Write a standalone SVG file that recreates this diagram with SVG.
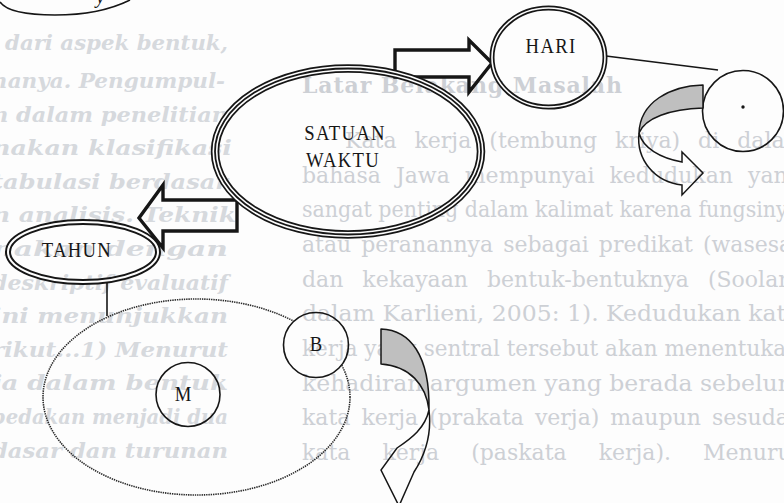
<svg xmlns="http://www.w3.org/2000/svg" width="784" height="503" viewBox="0 0 784 503">
  <defs>
    <style>
      .ghost{font-family:"DejaVu Serif","Liberation Serif",serif}
      .gl{font-style:italic;font-weight:bold;font-size:21px;fill:#d6d9dd}
      .gr{font-size:22px;fill:#cdd0d5}
      .gh{font-weight:bold}
      .lbl{font-family:"Liberation Serif","DejaVu Serif",serif;font-size:22px;fill:#161616;text-anchor:middle;letter-spacing:1.5px}
      .one{letter-spacing:0}
      .thin{fill:none;stroke:#161616;stroke-width:1.6}
      .blk{fill:none;stroke:#161616;stroke-width:3.4;stroke-linejoin:miter}
      .dot{fill:none;stroke:#2a2a2a;stroke-width:1.6;stroke-dasharray:1.4 0.9}
      .shade{fill:#bfbfbf;stroke:#161616;stroke-width:1.5;stroke-linejoin:round}
      .band{fill:none;stroke:#161616;stroke-width:1.5;stroke-linejoin:miter}
    </style>
    <mask id="cutB">
      <rect width="784" height="503" fill="#fff"/>
      <circle cx="316" cy="345" r="33" fill="#000"/>
    </mask>
  </defs>

  <rect width="784" height="503" fill="#fdfdfd"/>

  <!-- show-through of the facing page -->
  <g id="ghost-left" class="ghost gl">
    <text x="5" y="50" textLength="223" lengthAdjust="spacingAndGlyphs">dari aspek bentuk,</text>
    <text x="-8" y="88" textLength="233" lengthAdjust="spacingAndGlyphs">hanya. Pengumpul-</text>
    <text x="-8" y="122" textLength="236" lengthAdjust="spacingAndGlyphs">n dalam penelitian</text>
    <text x="-8" y="155" textLength="240" lengthAdjust="spacingAndGlyphs">nakan klasifikasi</text>
    <text x="-8" y="189" textLength="236" lengthAdjust="spacingAndGlyphs">tabulasi berdasar</text>
    <text x="-8" y="222" textLength="244" lengthAdjust="spacingAndGlyphs">n analisis. Teknik</text>
    <text x="-8" y="256" textLength="236" lengthAdjust="spacingAndGlyphs">nakan dengan</text>
    <text x="-8" y="290" textLength="236" lengthAdjust="spacingAndGlyphs">deskriptif evaluatif</text>
    <text x="-8" y="323" textLength="236" lengthAdjust="spacingAndGlyphs">ini menunjukkan</text>
    <text x="-8" y="357" textLength="236" lengthAdjust="spacingAndGlyphs">rikut...1) Menurut</text>
    <text x="-8" y="390" textLength="236" lengthAdjust="spacingAndGlyphs">ja dalam bentuk</text>
    <text x="-8" y="424" textLength="236" lengthAdjust="spacingAndGlyphs">bedakan menjadi dua</text>
    <text x="-8" y="458" textLength="236" lengthAdjust="spacingAndGlyphs">dasar dan turunan</text>
  </g>
  <g id="ghost-right" class="ghost gr">
    <text class="gh" x="302" y="93" textLength="320" lengthAdjust="spacing">Latar Belakang Masalah</text>
    <text x="345" y="148" word-spacing="11">Kata kerja (tembung kriya) di dalam</text>
    <text x="302" y="183" word-spacing="8">bahasa Jawa mempunyai kedudukan yang</text>
    <text x="302" y="217" textLength="498" lengthAdjust="spacingAndGlyphs">sangat penting dalam kalimat karena fungsinya</text>
    <text x="302" y="252" word-spacing="3">atau peranannya sebagai predikat (wasesa)</text>
    <text x="302" y="287" word-spacing="12">dan kekayaan bentuk-bentuknya (Soolam</text>
    <text x="302" y="321" textLength="498" lengthAdjust="spacingAndGlyphs">dalam Karlieni, 2005: 1). Kedudukan kata</text>
    <text x="302" y="356" textLength="498" lengthAdjust="spacingAndGlyphs">kerja yang sentral tersebut akan menentukan</text>
    <text x="302" y="391" textLength="498" lengthAdjust="spacingAndGlyphs">kehadiran argumen yang berada sebelum</text>
    <text x="302" y="425" word-spacing="4">kata kerja (prakata verja) maupun sesudah</text>
    <text x="302" y="460" word-spacing="25">kata kerja (paskata kerja). Menurut</text>
  </g>

  <!-- fragment of a shape cut by the top edge -->
  <g id="top-fragment">
    <path class="thin" d="M0,2 C6,11 26,15 55,15 C88,15 114,8 130,0"/>
    <text x="96" y="3" font-family="Liberation Serif,serif" font-style="italic" font-size="20" fill="#161616">y</text>
  </g>

  <!-- connectors -->
  <g id="connectors">
    <path class="blk" d="M395,50 L469,50 L469,40 L492,63 L469,92 L469,77 L395,77 Z"/>
    <path class="blk" d="M237,200 L163,200 L163,185 L139,218 L163,248 L163,231 L237,231 Z"/>
    <line class="thin" x1="606" y1="56" x2="718" y2="70"/>
    <line class="thin" x1="107" y1="281" x2="107" y2="316"/>
  </g>

  <!-- SATUAN WAKTU -->
  <g id="satuan-waktu">
    <ellipse cx="348" cy="151.5" rx="133" ry="83" fill="none" stroke="#161616" stroke-width="8.5"/>
    <ellipse cx="348" cy="151.5" rx="133" ry="83" fill="none" stroke="#fdfdfd" stroke-width="5"/>
    <ellipse cx="348" cy="151.5" rx="133" ry="83" fill="none" stroke="#161616" stroke-width="1.8"/>
    <text class="lbl" transform="translate(345,140) scale(0.85,1)">SATUAN</text>
    <text class="lbl" transform="translate(343,167) scale(0.85,1)">WAKTU</text>
  </g>

  <!-- HARI -->
  <g id="hari">
    <ellipse cx="548.5" cy="57.5" rx="56.5" ry="49.5" fill="none" stroke="#161616" stroke-width="5"/>
    <ellipse cx="548.5" cy="57.5" rx="56.5" ry="49.5" fill="none" stroke="#fdfdfd" stroke-width="1.6"/>
    <text class="lbl" transform="translate(551,53) scale(0.85,1)">HARI</text>
  </g>

  <!-- TAHUN -->
  <g id="tahun">
    <ellipse cx="83" cy="252" rx="75" ry="30" fill="none" stroke="#161616" stroke-width="6"/>
    <ellipse cx="83" cy="252" rx="75" ry="30" fill="none" stroke="#fdfdfd" stroke-width="2"/>
    <text class="lbl" transform="translate(77,257) scale(0.85,1)">TAHUN</text>
  </g>

  <!-- day: turning body -->
  <g id="hari-rotasi">
    <circle class="thin" cx="743" cy="111" r="40.5"/>
    <circle cx="743" cy="107" r="1.7" fill="#161616"/>
    <path class="shade" d="M703,85 C670,86 640,102 639,133 C645,118 670,109 703,108 Z"/>
    <path class="band" d="M639,133 C636,160 655,182 682,185 L682,195 L703,173 L682,152 L682,162 C660,158 643,148 639,133 Z"/>
  </g>

  <!-- year: orbit -->
  <g id="tahun-orbit">
    <ellipse class="dot" cx="196.5" cy="397" rx="153.5" ry="98" mask="url(#cutB)"/>
  </g>
  <g id="m">
    <circle class="thin" cx="188" cy="394.5" r="32"/>
    <text class="lbl one" transform="translate(183,401) scale(0.85,1)">M</text>
  </g>
  <g id="b">
    <circle class="thin" cx="316" cy="345" r="32.5"/>
    <text class="lbl one" transform="translate(316,351) scale(0.85,1)">B</text>
  </g>
  <g id="b-rotasi">
    <path class="shade" d="M381,329 C410,330 430,355 429,410 C426,385 410,366 381,364 Z"/>
    <path class="band" d="M429,410 C432,435 425,455 414,472 L399,506 L381,470 L397,448 C412,438 425,428 429,410 Z"/>
  </g>
</svg>
